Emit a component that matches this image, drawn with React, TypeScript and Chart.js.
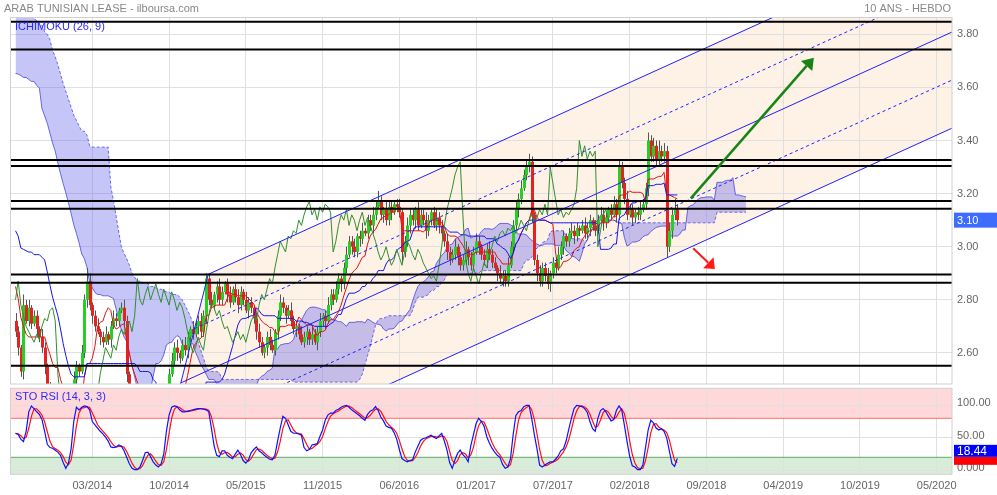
import React, { useEffect, useRef } from "react";
import { Chart, registerables } from "chart.js";

Chart.register(...registerables);

const FONT = '"Liberation Sans", Arial, Helvetica, sans-serif';
Chart.defaults.font.family = FONT;

// ---------- axis ticks (weeks counted from the week of 31/03/2014) ----------
const tickWeeks = [0, 29, 58, 87, 116, 145, 174, 203, 232, 261, 290, 319];
const tickLabels = ["03/2014", "10/2014", "05/2015", "11/2015", "06/2016", "01/2017", "07/2017", "02/2018", "09/2018", "04/2019", "10/2019", "05/2020"];
const priceTicks = [2.6, 2.8, 3.0, 3.2, 3.4, 3.6, 3.8];
const stoTicks = [0, 50, 100];
const stoTickLabels = ["0.000", "50.00", "100.00"];

// ---------- weekly prices, weeks -29 .. 221 ----------
const firstWeek = -29;
const firstOpen = 2.72;
const closes = [
  2.68, 2.62, 2.53, 2.78, 2.72, 2.77, 2.71, 2.74, 2.69, 2.66,
  2.62, 2.55, 2.47, 2.40, 2.36, 2.42, 2.38, 2.32, 2.28, 2.24,
  2.26, 2.36, 2.50, 2.55, 2.53, 2.60, 2.80, 2.87, 2.78, 2.74,
  2.70, 2.68, 2.66, 2.64, 2.67, 2.65, 2.70, 2.73, 2.72, 2.76,
  2.77, 2.72, 2.52, 2.42, 2.33, 2.26, 2.20, 2.17, 2.22, 2.26,
  2.20, 2.15, 2.12, 2.16, 2.22, 2.30, 2.38, 2.45, 2.52, 2.57,
  2.62, 2.60, 2.58, 2.63, 2.61, 2.66, 2.69, 2.67, 2.70, 2.72,
  2.68, 2.74, 2.88, 2.80, 2.78, 2.82, 2.85, 2.80, 2.83, 2.86,
  2.82, 2.79, 2.84, 2.81, 2.78, 2.83, 2.80, 2.76, 2.79, 2.77,
  2.73, 2.68, 2.64, 2.60, 2.62, 2.66, 2.63, 2.61, 2.68, 2.74,
  2.79, 2.77, 2.74, 2.76, 2.72, 2.69, 2.70, 2.67, 2.64, 2.66,
  2.68, 2.65, 2.67, 2.64, 2.68, 2.72, 2.74, 2.72, 2.78, 2.82,
  2.80, 2.84, 2.88, 2.86, 2.92, 2.97, 3.02, 3.00, 2.98, 3.04,
  3.03, 3.06, 3.05, 3.10, 3.08, 3.12, 3.15, 3.17, 3.12, 3.14,
  3.10, 3.15, 3.13, 3.16, 3.15, 3.13, 2.98, 3.02, 3.08, 3.12,
  3.10, 3.14, 3.08, 3.12, 3.10, 3.06, 3.10, 3.13, 3.08, 3.11,
  3.08, 3.05, 3.02, 2.98, 2.95, 2.97, 3.00, 2.96, 2.93, 2.95,
  2.99, 2.96, 2.93, 2.98, 3.02, 3.00, 2.97, 2.95, 2.99, 2.97,
  2.94, 2.92, 2.90, 2.88, 2.89, 2.87, 2.93, 3.00, 3.08, 3.14,
  3.18, 3.22, 3.27, 3.30, 3.32, 3.12, 2.95, 2.90, 2.87, 2.92,
  2.89, 2.86, 2.90, 2.94, 2.92, 2.97, 3.00, 3.04, 3.02, 3.05,
  3.06, 3.04, 3.07, 3.06, 3.08, 3.05, 3.07, 3.10, 3.08, 3.06,
  3.10, 3.12, 3.09, 3.11, 3.14, 3.12, 3.16, 3.12, 3.30, 3.24,
  3.18, 3.12, 3.14, 3.11, 3.13, 3.12, 3.14, 3.16, 3.22, 3.40,
  3.34, 3.38, 3.33, 3.36, 3.34, 3.36, 3.00, 3.06, 3.12, 3.14, 3.10,
];
// wick above the body / below the body, in hundredths
const upperWicks = [
  3, 2, 1, 4, 2, 3, 1, 2, 2, 1, 3, 2, 1, 2, 3, 2, 1, 2, 3, 2, 1, 2, 3, 2, 1, 3, 2, 5, 3, 1,
  2, 3, 1, 2, 3, 1, 2, 3, 2, 1, 2, 3, 2, 1, 3, 2, 1, 2, 3, 2, 1, 2, 3, 2, 2, 3, 2, 1, 2, 3,
  2, 3, 1, 2, 3, 2, 1, 3, 2, 2, 3, 2, 2, 2, 3, 1, 2, 3, 2, 1, 2, 3, 1, 2, 3, 2, 1, 3, 2, 2,
  1, 2, 3, 2, 1, 2, 3, 2, 1, 2, 3, 2, 1, 2, 3, 2, 2, 1, 3, 2, 2, 1, 3, 2, 2, 3, 1, 2, 3, 2,
  2, 3, 2, 1, 2, 3, 2, 2, 3, 1, 2, 3, 1, 2, 2, 3, 2, 4, 2, 1, 3, 2, 2, 1, 2, 3, 1, 2, 3, 2,
  2, 1, 3, 2, 2, 3, 2, 1, 2, 3, 2, 2, 1, 3, 2, 2, 3, 1, 2, 2, 3, 1, 2, 2, 3, 2, 1, 2, 2, 3,
  2, 2, 1, 3, 2, 2, 3, 2, 2, 3, 2, 3, 2, 3, 3, 2, 1, 2, 3, 2, 2, 3, 1, 2, 2, 3, 2, 2, 1, 2,
  3, 2, 2, 1, 2, 3, 2, 2, 1, 2, 2, 3, 2, 2, 1, 2, 3, 2, 3, 2, 2, 3, 2, 2, 1, 2, 3, 2, 2, 3,
  2, 3, 2, 4, 2, 3, 2, 3, 2, 4, 2,
];
const lowerWicks = [
  2, 3, 2, 3, 1, 2, 2, 1, 3, 2, 2, 3, 2, 1, 2, 3, 2, 2, 3, 2, 4, 2, 3, 2, 2, 1, 2, 3, 2, 3,
  2, 1, 3, 2, 1, 2, 3, 1, 2, 2, 1, 2, 3, 2, 3, 2, 2, 3, 2, 2, 3, 2, 4, 2, 2, 1, 2, 3, 2, 1,
  2, 3, 2, 1, 2, 3, 2, 2, 1, 3, 2, 2, 3, 2, 1, 2, 3, 2, 2, 1, 3, 2, 1, 2, 3, 2, 2, 1, 3, 2,
  2, 3, 2, 1, 2, 3, 2, 1, 2, 3, 2, 2, 3, 1, 2, 2, 3, 2, 1, 2, 3, 2, 2, 1, 3, 2, 2, 3, 1, 2,
  2, 1, 2, 3, 2, 2, 1, 3, 2, 2, 3, 2, 1, 2, 2, 3, 2, 1, 2, 3, 2, 2, 3, 1, 2, 2, 4, 2, 2, 3,
  2, 3, 2, 1, 2, 3, 2, 2, 1, 2, 3, 2, 2, 3, 2, 1, 2, 3, 2, 2, 2, 3, 2, 2, 1, 3, 2, 2, 3, 2,
  2, 1, 3, 2, 3, 2, 2, 1, 2, 2, 3, 2, 1, 2, 2, 3, 2, 3, 2, 2, 2, 2, 3, 2, 2, 1, 2, 3, 2, 2,
  2, 3, 2, 2, 1, 2, 2, 3, 2, 2, 1, 2, 3, 2, 2, 2, 1, 3, 2, 2, 2, 2, 1, 3, 2, 2, 2, 1, 2, 3,
  2, 2, 3, 2, 2, 2, 4, 2, 3, 2, 2,
];
// earlier weeks (-107 .. -30), off the left edge, used by the Ichimoku lines
const priorHighs = [
  4.40, 4.42, 4.38, 4.41, 4.36, 4.39, 4.35, 4.37, 4.34, 4.36,
  4.33, 4.35, 4.30, 4.28, 4.30, 4.26, 4.24, 4.25, 4.22, 4.20,
  4.18, 4.20, 4.17, 4.19, 4.16, 4.18, 4.15, 4.17, 4.14, 4.16,
  4.13, 4.15, 4.12, 4.14, 4.18, 4.20,
  4.25,
  3.95, 3.85, 3.78, 3.72, 3.66, 3.62, 3.58, 3.56, 3.55,
  3.55, 3.54, 3.54, 3.53, 3.52, 3.52, 3.50,
  3.50, 3.49, 3.48, 3.48, 3.47, 3.46, 3.46, 3.44, 3.42,
  3.44, 3.42, 3.40, 3.36, 3.32, 3.28,
  3.22, 3.15, 3.08, 3.02,
  2.96, 2.90, 2.84, 2.80, 2.76, 2.74,
];
const priorLows = [
  4.28, 4.30, 4.26, 4.29, 4.24, 4.27, 4.23, 4.25, 4.22, 4.24,
  4.21, 4.23, 4.18, 4.16, 4.18, 4.14, 4.12, 4.13, 4.10, 4.08,
  4.06, 4.08, 4.05, 4.07, 4.04, 4.06, 4.03, 4.05, 4.02, 4.04,
  4.01, 4.03, 4.00, 4.02, 4.06, 4.08,
  4.05,
  3.82, 3.74, 3.68, 3.62, 3.57, 3.53, 3.50, 3.48, 3.46,
  3.45, 3.44, 3.44, 3.43, 3.42, 3.42, 3.40,
  3.40, 3.39, 3.38, 3.38, 3.37, 3.36, 3.36, 3.34, 3.32,
  3.36, 3.33, 3.30, 3.26, 3.22, 3.18,
  3.12, 3.05, 2.98, 2.92,
  2.86, 2.80, 2.74, 2.70, 2.66, 2.62,
];

// ---------- STO RSI %K, weeks -29 .. 221 ----------
const stoK = [
  57, 55, 48, 44, 60, 90, 99, 95, 90, 86,
  78, 60, 40, 35, 34, 31, 28, 23, 12, 3,
  11, 33, 75, 97, 93, 97, 99, 98, 93, 75,
  70, 65, 60, 56, 51, 45, 36, 35, 36, 39,
  37, 30, 20, 10, 3, 1, 1, 5, 15, 27,
  28, 21, 13, 8, 5, 10, 25, 60, 85, 97,
  99, 98, 93, 90, 90, 91, 92, 93, 94, 95,
  95, 94, 93, 90, 65, 38, 23, 21, 30, 30,
  23, 20, 18, 25, 31, 24, 15, 11, 16, 27,
  32, 36, 30, 27, 23, 20, 17, 16, 23, 45,
  65, 83, 80, 70, 60, 57, 57, 56, 54, 35,
  30, 32, 39, 40, 41, 52, 62, 77, 85, 88,
  88, 92, 94, 97, 99, 100, 97, 93, 90, 87,
  84, 80, 77, 86, 91, 93, 98, 92, 82, 76,
  68, 66, 65, 58, 48, 32, 18, 15, 13, 15,
  16, 28, 37, 46, 49, 50, 52, 54, 51, 49,
  53, 57, 45, 31, 12, 3, 16, 26, 31, 24,
  20, 13, 38, 55, 72, 80, 75, 68, 52, 42,
  34, 28, 23, 20, 9, 3, 5, 18, 55, 84,
  90, 92, 98, 100, 100, 80, 55, 33, 8, 5,
  8, 11, 13, 13, 17, 22, 30, 33, 45, 63,
  80, 95, 100, 99, 98, 95, 89, 75, 64, 60,
  80, 92, 95, 90, 83, 76, 78, 92, 99, 93,
  70, 45, 22, 7, 5, 1, 1, 8, 35, 62,
  77, 73, 65, 62, 64, 60, 50, 30, 10, 6, 18.44,
];

// ---------- drawn objects (in week / price units) ----------
const levels = [3.847, 3.743, 3.327, 3.304, 3.172, 3.143, 2.895, 2.864, 2.552];
const forkP2 = { week: 43.8, price: 2.896 };
const forkP3 = { week: 23.1, price: 2.078 };
const forkSlope = 0.004536; // price per week
const forkEndWeek = 420;
const forkFractions = [0, 0.25, 0.5, 0.75, 1];
const greenArrow = { from: [226.1, 3.182], to: [272.6, 3.712] };
const redArrow = { from: [227.0, 2.994], to: [235.2, 2.916] };

// ---------- derived series ----------
const weeks = closes.map((_, i) => firstWeek + i);
const opens = closes.map((c, i) => (i === 0 ? firstOpen : closes[i - 1]));
const highs = closes.map((c, i) => Math.max(opens[i], c) + upperWicks[i] / 100);
const lows = closes.map((c, i) => Math.min(opens[i], c) - lowerWicks[i] / 100);
const allHighs = priorHighs.concat(highs);
const allLows = priorLows.concat(lows);
const allFirstWeek = firstWeek - priorHighs.length;
const P = priorHighs.length;

function midRange(n: number, idx: number) {
  let hh = -Infinity;
  let ll = Infinity;
  for (let k = Math.max(0, idx - n + 1); k <= idx; k++) {
    hh = Math.max(hh, allHighs[k]);
    ll = Math.min(ll, allLows[k]);
  }
  return (hh + ll) / 2;
}
const tenkan = weeks.map((w, i) => ({ x: w, y: midRange(9, i + P) }));
const kijun = weeks.map((w, i) => ({ x: w, y: midRange(26, i + P) }));
const spanA: { x: number; y: number }[] = [];
const spanB: { x: number; y: number }[] = [];
for (let idx = P - 26; idx < allHighs.length; idx++) {
  const w = allFirstWeek + idx + 26;
  spanA.push({ x: w, y: (midRange(9, idx) + midRange(26, idx)) / 2 });
  spanB.push({ x: w, y: midRange(52, idx) });
}
const chikou = closes.slice(26).map((c, i) => ({ x: weeks[i + 26] - 26, y: c }));
const stoKPts = stoK.map((v, i) => ({ x: weeks[i], y: v }));
const stoDPts = stoK.map((_, i) => {
  const s = stoK.slice(Math.max(0, i - 2), i + 1);
  return { x: weeks[i], y: s.reduce((a, b) => a + b, 0) / s.length };
});

// ---------- layout of the picture ----------
const W = 997;
const MAIN_H = 386;
const STO_H = 109;
const X_MIN = -30.9;
const X_MAX = 324.79;

function xAxis(showLabels: boolean, height: number) {
  return {
    type: "linear" as const,
    min: X_MIN,
    max: X_MAX,
    bounds: "data" as const,
    grid: { color: "#e0e0e0", drawTicks: false, lineWidth: 1 },
    border: { display: false },
    ticks: {
      display: showLabels,
      padding: 5,
      color: "#666",
      font: { size: 11, family: FONT },
      maxRotation: 0,
      autoSkip: false,
      callback: (_v: any, i: number) => tickLabels[i] ?? "",
    },
    afterBuildTicks: (s: any) => {
      s.ticks = tickWeeks.map((v) => ({ value: v }));
    },
    afterFit: (s: any) => {
      s.height = height;
      s.paddingLeft = 0;
      s.paddingRight = 0;
    },
  };
}

function clipArea(chart: any) {
  const a = chart.chartArea;
  chart.ctx.beginPath();
  chart.ctx.rect(a.left, a.top, a.right - a.left, a.bottom - a.top);
  chart.ctx.clip();
}

function drawArrow(ctx: CanvasRenderingContext2D, x0: number, y0: number, x1: number, y1: number, color: string, width: number, headLen: number, headHalf: number) {
  const dx = x1 - x0;
  const dy = y1 - y0;
  const len = Math.hypot(dx, dy);
  const ux = dx / len;
  const uy = dy / len;
  const bx = x1 - ux * headLen;
  const by = y1 - uy * headLen;
  ctx.strokeStyle = color;
  ctx.fillStyle = color;
  ctx.lineWidth = width;
  ctx.setLineDash([]);
  ctx.beginPath();
  ctx.moveTo(x0, y0);
  ctx.lineTo(bx, by);
  ctx.stroke();
  ctx.beginPath();
  ctx.moveTo(x1, y1);
  ctx.lineTo(bx - uy * headHalf, by + ux * headHalf);
  ctx.lineTo(bx + uy * headHalf, by - ux * headHalf);
  ctx.closePath();
  ctx.fill();
}

const mainDecor = {
  id: "mainDecor",
  beforeDraw(chart: any) {
    const { ctx, scales } = chart;
    const X = (w: number) => scales.x.getPixelForValue(w);
    const Y = (p: number) => scales.y.getPixelForValue(p);
    ctx.save();
    clipArea(chart);
    const e2 = forkP2.price + forkSlope * (forkEndWeek - forkP2.week);
    const e3 = forkP3.price + forkSlope * (forkEndWeek - forkP3.week);
    ctx.beginPath();
    ctx.moveTo(X(forkP2.week), Y(forkP2.price));
    ctx.lineTo(X(forkEndWeek), Y(e2));
    ctx.lineTo(X(forkEndWeek), Y(e3));
    ctx.lineTo(X(forkP3.week), Y(forkP3.price));
    ctx.closePath();
    ctx.fillStyle = "rgba(250,200,150,0.25)";
    ctx.fill();
    ctx.restore();
  },
  afterDatasetDraw(chart: any, args: any) {
    if (args.index !== 3) return;
    const { ctx, scales } = chart;
    ctx.save();
    clipArea(chart);
    for (let i = 0; i < closes.length; i++) {
      const cx = Math.round(scales.x.getPixelForValue(weeks[i]));
      const yh = scales.y.getPixelForValue(highs[i]);
      const yl = scales.y.getPixelForValue(lows[i]);
      ctx.strokeStyle = "#555";
      ctx.lineWidth = 1;
      ctx.beginPath();
      ctx.moveTo(cx + 0.5, yh);
      ctx.lineTo(cx + 0.5, yl);
      ctx.stroke();
      const yo = scales.y.getPixelForValue(opens[i]);
      const yc = scales.y.getPixelForValue(closes[i]);
      const up = closes[i] >= opens[i];
      ctx.fillStyle = up ? "#25cf25" : "#e52222";
      const top = Math.min(yo, yc);
      const h = Math.max(1, Math.abs(yo - yc));
      ctx.fillRect(cx - 1, top, 3, h);
    }
    ctx.restore();
  },
  afterDatasetsDraw(chart: any) {
    const { ctx, scales, chartArea: a } = chart;
    const X = (w: number) => scales.x.getPixelForValue(w);
    const Y = (p: number) => scales.y.getPixelForValue(p);
    ctx.save();
    clipArea(chart);
    // pitchfork
    ctx.strokeStyle = "#1f1fff";
    ctx.lineWidth = 1;
    ctx.setLineDash([]);
    ctx.beginPath();
    ctx.moveTo(X(forkP2.week), Y(forkP2.price));
    ctx.lineTo(X(forkP3.week), Y(forkP3.price));
    ctx.stroke();
    forkFractions.forEach((f) => {
      const sw = forkP2.week + f * (forkP3.week - forkP2.week);
      const sp = forkP2.price + f * (forkP3.price - forkP2.price);
      const ep = sp + forkSlope * (forkEndWeek - sw);
      ctx.setLineDash(f === 0.25 || f === 0.75 ? [3, 3] : []);
      ctx.beginPath();
      ctx.moveTo(X(sw), Y(sp));
      ctx.lineTo(X(forkEndWeek), Y(ep));
      ctx.stroke();
    });
    ctx.setLineDash([]);
    // horizontal levels
    ctx.strokeStyle = "#000";
    ctx.lineWidth = 2;
    levels.forEach((v) => {
      const y = Y(v);
      ctx.beginPath();
      ctx.moveTo(a.left, y);
      ctx.lineTo(a.right, y);
      ctx.stroke();
    });
    // arrows
    drawArrow(ctx, X(greenArrow.from[0]), Y(greenArrow.from[1]), X(greenArrow.to[0]), Y(greenArrow.to[1]), "#168516", 2.5, 11, 7.5);
    drawArrow(ctx, X(redArrow.from[0]), Y(redArrow.from[1]), X(redArrow.to[0]), Y(redArrow.to[1]), "#ff1a1a", 2, 9, 7.5);
    ctx.restore();
  },
  afterDraw(chart: any) {
    const { ctx, scales, chartArea: a } = chart;
    ctx.save();
    ctx.strokeStyle = "#d0d0d0";
    ctx.lineWidth = 1;
    ctx.strokeRect(a.left, a.top, a.right - a.left, a.bottom - a.top);
    ctx.font = `11px ${FONT}`;
    ctx.textBaseline = "middle";
    ctx.fillStyle = "#888";
    ctx.textAlign = "left";
    ctx.fillText("ARAB TUNISIAN LEASE - ilboursa.com", 4, 9);
    ctx.textAlign = "right";
    ctx.fillText("10 ANS - HEBDO", 951, 9);
    ctx.textAlign = "left";
    ctx.fillStyle = "#2b2bff";
    ctx.fillText("ICHIMOKU (26, 9)", 15, 26.5);
    // last price label
    const last = closes[closes.length - 1];
    const y = scales.y.getPixelForValue(last);
    ctx.fillStyle = "#3d6dff";
    ctx.fillRect(a.right + 2, y - 7.5, W - a.right - 2, 15);
    ctx.fillStyle = "#fff";
    ctx.fillText(last.toFixed(2), a.right + 5, y + 0.5);
    ctx.restore();
  },
};

const stoDecor = {
  id: "stoDecor",
  beforeDraw(chart: any) {
    const { ctx, scales, chartArea: a } = chart;
    const y80 = scales.y.getPixelForValue(80);
    const y20 = scales.y.getPixelForValue(20);
    ctx.save();
    ctx.fillStyle = "rgba(255,0,0,0.15)";
    ctx.fillRect(a.left, a.top, a.right - a.left, y80 - a.top);
    ctx.fillStyle = "rgba(0,128,0,0.15)";
    ctx.fillRect(a.left, y20, a.right - a.left, a.bottom - y20);
    ctx.restore();
  },
  beforeDatasetsDraw(chart: any) {
    const { ctx, scales, chartArea: a } = chart;
    ctx.save();
    ctx.lineWidth = 1;
    ctx.strokeStyle = "#ff6b6b";
    const y80 = scales.y.getPixelForValue(80);
    ctx.beginPath();
    ctx.moveTo(a.left, y80);
    ctx.lineTo(a.right, y80);
    ctx.stroke();
    ctx.strokeStyle = "#5fa85f";
    const y20 = scales.y.getPixelForValue(20);
    ctx.beginPath();
    ctx.moveTo(a.left, y20);
    ctx.lineTo(a.right, y20);
    ctx.stroke();
    ctx.restore();
  },
  afterDraw(chart: any) {
    const { ctx, scales, chartArea: a } = chart;
    ctx.save();
    ctx.strokeStyle = "#d0d0d0";
    ctx.lineWidth = 1;
    ctx.strokeRect(a.left, a.top, a.right - a.left, a.bottom - a.top);
    ctx.font = `11px ${FONT}`;
    ctx.textBaseline = "middle";
    ctx.fillStyle = "#2b2bff";
    ctx.fillText("STO RSI (14, 3, 3)", 15, 11);
    const lastK = stoK[stoK.length - 1];
    const lastD = stoDPts[stoDPts.length - 1].y;
    const yD = scales.y.getPixelForValue(lastD);
    ctx.fillStyle = "#ff0000";
    ctx.fillRect(a.right + 2, yD - 6, W - a.right - 2, 8);
    ctx.fillStyle = "#0000ff";
    ctx.fillRect(a.right + 2, yD - 18, W - a.right - 2, 12);
    ctx.fillStyle = "#fff";
    ctx.font = `12px ${FONT}`;
    ctx.fillText(lastK.toFixed(2), a.right + 5, yD - 11.5);
    ctx.restore();
  },
};

export default function App() {
  const mainRef = useRef<HTMLCanvasElement>(null);
  const stoRef = useRef<HTMLCanvasElement>(null);

  useEffect(() => {
    const line = { pointRadius: 0, tension: 0, fill: false } as const;
    const main = new Chart(mainRef.current as HTMLCanvasElement, {
      type: "line",
      data: {
        datasets: [
          { ...line, label: "chikou", data: chikou, borderColor: "#2f8f2f", borderWidth: 1 },
          { ...line, label: "kijun", data: kijun, borderColor: "#1414f0", borderWidth: 1 },
          { ...line, label: "tenkan", data: tenkan, borderColor: "#e01414", borderWidth: 1 },
          { ...line, label: "spanA", data: spanA, borderColor: "rgba(60,60,230,0.75)", borderWidth: 1, fill: "+1", backgroundColor: "rgba(90,90,235,0.35)" },
          { ...line, label: "spanB", data: spanB, borderColor: "rgba(60,60,230,0.75)", borderWidth: 1, borderDash: [3, 2] },
        ],
      } as any,
      options: {
        responsive: false,
        animation: false,
        devicePixelRatio: 1,
        events: [],
        layout: { padding: { left: 10.5, top: 17.5, right: 0, bottom: 2 } },
        plugins: { legend: { display: false }, tooltip: { enabled: false } },
        scales: {
          x: xAxis(false, 0),
          y: {
            type: "linear",
            position: "right",
            min: 2.48286,
            max: 3.86328,
            bounds: "data",
            grid: { color: "#e0e0e0", drawTicks: false },
            border: { display: false },
            ticks: { padding: 5, color: "#666", font: { size: 11, family: FONT }, callback: (v: any) => Number(v).toFixed(2) },
            afterBuildTicks: (s: any) => {
              s.ticks = priceTicks.map((v) => ({ value: v }));
            },
            afterFit: (s: any) => {
              s.width = 45;
              s.paddingTop = 0;
              s.paddingBottom = 0;
            },
          },
        },
      } as any,
      plugins: [mainDecor],
    });

    const sto = new Chart(stoRef.current as HTMLCanvasElement, {
      type: "line",
      data: {
        datasets: [
          { ...line, label: "K", data: stoKPts, borderColor: "#1010ff", borderWidth: 1.2 },
          { ...line, label: "D", data: stoDPts, borderColor: "#ff1010", borderWidth: 1.2 },
        ],
      } as any,
      options: {
        responsive: false,
        animation: false,
        devicePixelRatio: 1,
        events: [],
        layout: { padding: { left: 10.5, top: 2.3, right: 0, bottom: 0 } },
        plugins: { legend: { display: false }, tooltip: { enabled: false } },
        scales: {
          x: xAxis(true, 20.7),
          y: {
            type: "linear",
            position: "right",
            min: -6.15,
            max: 126.15,
            bounds: "data",
            grid: { color: "#e0e0e0", drawTicks: false },
            border: { display: false },
            ticks: {
              padding: 5,
              color: "#666",
              labelOffset: -2,
              font: { size: 11, family: FONT },
              callback: (v: any) => stoTickLabels[stoTicks.indexOf(Number(v))] ?? "",
            },
            afterBuildTicks: (s: any) => {
              s.ticks = stoTicks.map((v) => ({ value: v }));
            },
            afterFit: (s: any) => {
              s.width = 45;
              s.paddingTop = 0;
              s.paddingBottom = 0;
            },
          },
        },
      } as any,
      plugins: [stoDecor],
    });

    return () => {
      main.destroy();
      sto.destroy();
    };
  }, []);

  return (
    <div style={{ position: "absolute", left: 0, top: 0, width: W, height: MAIN_H + STO_H, background: "#fff" }}>
      <canvas ref={mainRef} width={W} height={MAIN_H} style={{ position: "absolute", left: 0, top: 0 }} />
      <canvas ref={stoRef} width={W} height={STO_H} style={{ position: "absolute", left: 0, top: MAIN_H }} />
    </div>
  );
}
